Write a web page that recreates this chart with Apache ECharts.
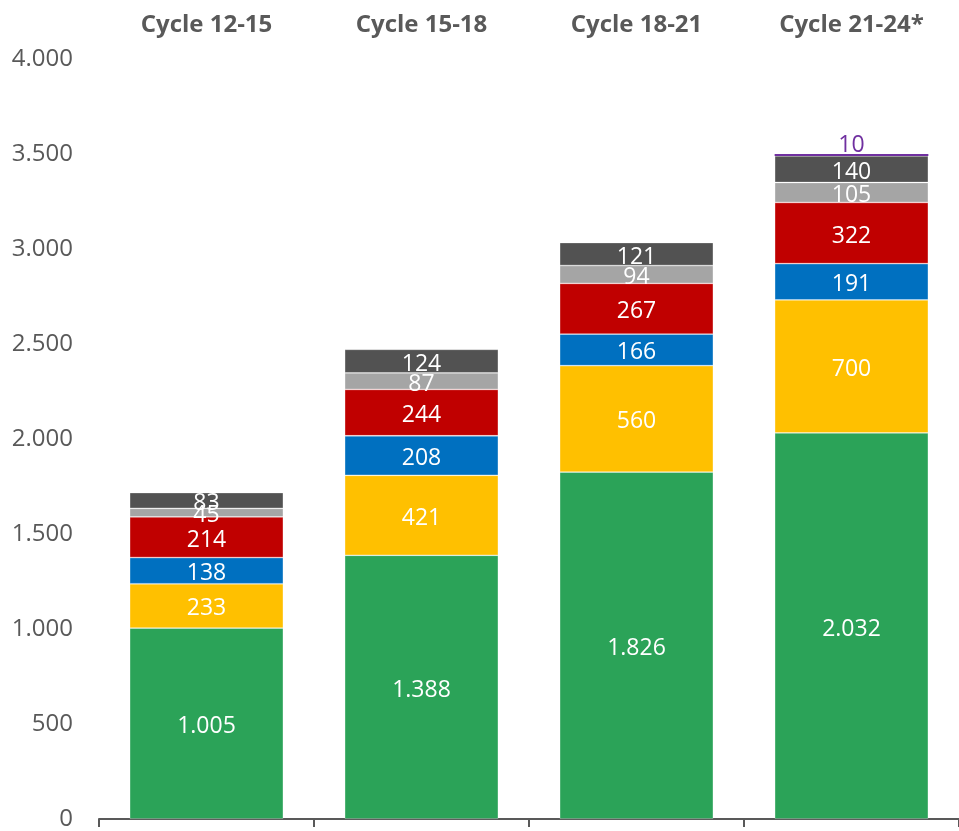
<!DOCTYPE html>
<html>
<head>
<meta charset="utf-8">
<script src="https://cdn.jsdelivr.net/npm/echarts@6/dist/echarts.min.js"></script>
<style>html,body{margin:0;padding:0;background:#fff}#c{width:959px;height:831px}</style>
</head>
<body>
<div id="c"></div>
<script>
const categories = ['Cycle 12-15', 'Cycle 15-18', 'Cycle 18-21', 'Cycle 21-24*'];
const greenVals = [1005, 1388, 1826, 2032];
const yellowVals = [233, 421, 560, 700];
const blueVals = [138, 208, 166, 191];
const redVals = [214, 244, 267, 322];
const lightGreyVals = [45, 87, 94, 105];
const darkGreyVals = [83, 124, 121, 140];
const purpleVals = [null, null, null, 10];
const yTicks = [0, 500, 1000, 1500, 2000, 2500, 3000, 3500, 4000];

const FONT = '"Open Sans", "DejaVu Sans", sans-serif';
const fmt = v => {
  const s = String(Math.round(v));
  return s.replace(/\B(?=(\d{3})+(?!\d))/g, '.');
};

function seg(name, data, color, labelColor, pos, noBorder) {
  return {
    name: name,
    type: 'bar',
    stack: 'total',
    data: data,
    barWidth: '71.5%',
    itemStyle: noBorder
      ? { color: color }
      : { color: color, borderColor: 'rgba(255,255,255,0.35)', borderWidth: 0.8 },
    label: {
      show: true,
      position: pos || 'inside',
      distance: pos === 'top' ? -3 : 0,
      offset: pos === 'top' ? [0, 0] : [0, 3],
      color: labelColor || '#ffffff',
      fontFamily: FONT,
      fontSize: 23,
      formatter: p => (p.value == null ? '' : fmt(p.value))
    },
    emphasis: { disabled: true }
  };
}

const chart = echarts.init(document.getElementById('c'), null, { renderer: 'canvas' });
chart.setOption({
  animation: false,
  backgroundColor: '#ffffff',
  grid: { left: 99, right: -3, top: 59, bottom: 8, containLabel: false },
  xAxis: [
    {
      type: 'category',
      data: categories,
      position: 'bottom',
      axisLine: { show: true, lineStyle: { color: '#595959', width: 2 } },
      axisTick: { show: true, length: 8, lineStyle: { color: '#595959', width: 2 } },
      axisLabel: { show: false }
    },
    {
      type: 'category',
      data: categories,
      position: 'top',
      axisLine: { show: false },
      axisTick: { show: false },
      axisLabel: {
        show: true,
        margin: 22,
        color: '#595959',
        fontFamily: FONT,
        fontWeight: 'bold',
        fontSize: 24
      }
    }
  ],
  yAxis: {
    type: 'value',
    min: yTicks[0],
    max: yTicks[yTicks.length - 1],
    interval: 500,
    axisLine: { show: false },
    axisTick: { show: false },
    splitLine: { show: false },
    axisLabel: {
      margin: 26,
      color: '#595959',
      fontFamily: FONT,
      fontSize: 24,
      formatter: v => fmt(v)
    }
  },
  series: [
    seg('green', greenVals, '#2BA358'),
    seg('yellow', yellowVals, '#FFC000'),
    seg('blue', blueVals, '#0070C0'),
    seg('red', redVals, '#C00000'),
    seg('lightgrey', lightGreyVals, '#A5A5A5'),
    seg('darkgrey', darkGreyVals, '#525252'),
    seg('purple', purpleVals, '#7030A0', '#7030A0', 'top', true)
  ]
});
</script>
</body>
</html>
